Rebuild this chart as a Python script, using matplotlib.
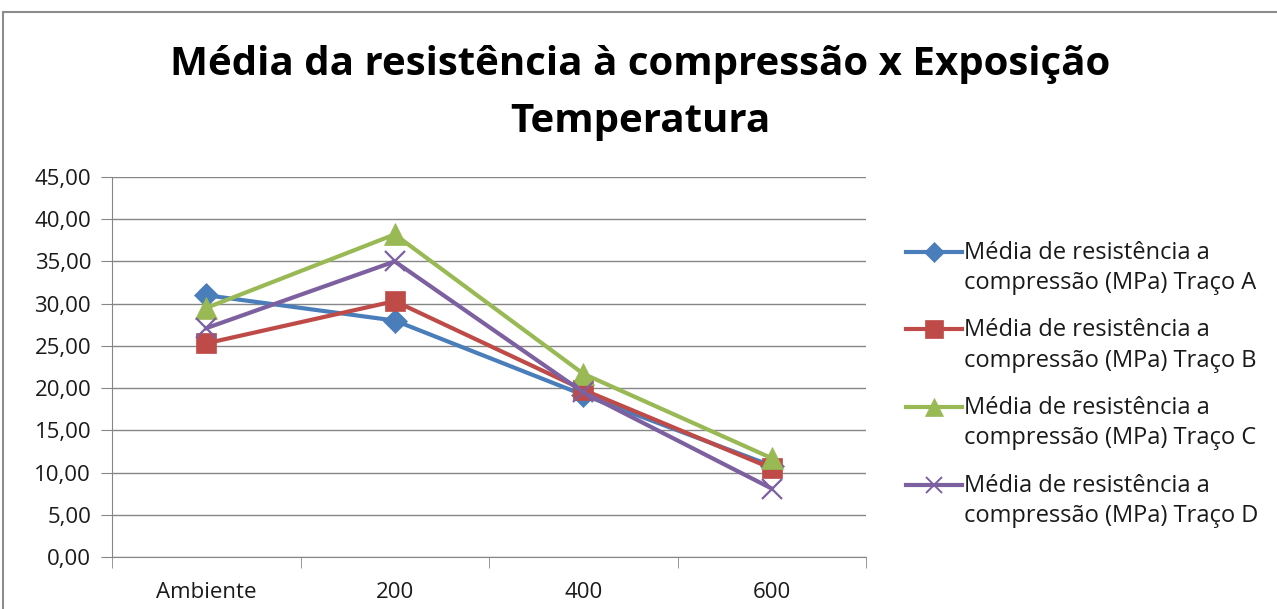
import matplotlib.pyplot as plt
from matplotlib.patches import Rectangle
from matplotlib.lines import Line2D
from matplotlib.ticker import FuncFormatter

plt.rcParams['font.family'] = ['Open Sans', 'DejaVu Sans']

categorias = ['Ambiente', '200', '400', '600']
traco_a = [31.0, 28.0, 19.2, 10.8]
traco_b = [25.3, 30.3, 19.8, 10.5]
traco_c = [29.5, 38.2, 21.7, 11.7]
traco_d = [27.1, 35.0, 19.5, 8.1]
rotulos = ['Média de resistência a\ncompressão (MPa) Traço ' + t for t in 'ABCD']

W, H = 1277, 609
fig = plt.figure(figsize=(W / 100, H / 100), dpi=100)
fig.patches.append(Rectangle((3 / W, -0.1), 1.2, 1 - 12 / H + 0.1,
                             transform=fig.transFigure, fill=False,
                             edgecolor='#8c8c8c', linewidth=1.5))

ax = fig.add_axes([112 / W, 1 - 557 / H, (866 - 112) / W, (557 - 177) / H])

x = range(len(categorias))
estilos = [
    (traco_a, '#4a7ebb', 'D', 12),
    (traco_b, '#be4b48', 's', 15),
    (traco_c, '#98b954', '^', 16),
    (traco_d, '#7d60a0', 'x', 14),
]
for (serie, cor, mk, ms), rot in zip(estilos, rotulos):
    ax.plot(x, serie, color=cor, linewidth=3, marker=mk, markersize=ms,
            markeredgewidth=1.6 if mk == 'x' else 0.5, markeredgecolor=cor)

ax.set_xlim(-0.5, 3.5)
ax.set_ylim(0, 45)
ax.set_yticks(range(0, 46, 5))
ax.yaxis.set_major_formatter(FuncFormatter(lambda v, p: f'{v:.2f}'.replace('.', ',')))
ax.set_xticks(list(x))
ax.set_xticklabels(categorias)
ax.set_xticks([-0.5, 0.5, 1.5, 2.5, 3.5], minor=True)
ax.tick_params(axis='x', which='major', length=0, pad=18, labelsize=16, labelcolor='#1a1a1a')
ax.tick_params(axis='x', which='minor', length=8, color='#868686')
ax.tick_params(axis='y', length=8, color='#868686', labelsize=16, pad=7, labelcolor='#1a1a1a')
ax.grid(axis='y', color='#868686', linewidth=1)
ax.set_axisbelow(True)
for s in ['top', 'right']:
    ax.spines[s].set_visible(False)
ax.spines['left'].set_color('#868686')
ax.spines['bottom'].set_color('#868686')

fig.text(640 / W, 1 - 93 / H, 'Média da resistência à compressão x Exposição\nTemperatura',
         ha='center', va='center', fontsize=29, fontweight='bold', linespacing=1.6)

# legenda manual: marcador alinhado com a primeira linha do rótulo
for i, ((serie, cor, mk, ms), rot) in enumerate(zip(estilos, rotulos)):
    y = 1 - (252 + 77.5 * i) / H
    fig.add_artist(Line2D([906 / W, 962 / W], [y, y], transform=fig.transFigure,
                          color=cor, linewidth=3))
    fig.add_artist(Line2D([934 / W], [y], transform=fig.transFigure, color=cor,
                          marker=mk, markersize=ms * 0.85,
                          markeredgewidth=1.4 if mk == 'x' else 0.5, markeredgecolor=cor))
    fig.text(964 / W, y + 11 / H, rot, ha='left', va='top', fontsize=17,
             color='#1a1a1a', linespacing=1.35)

fig.savefig('out.png', dpi=100)
